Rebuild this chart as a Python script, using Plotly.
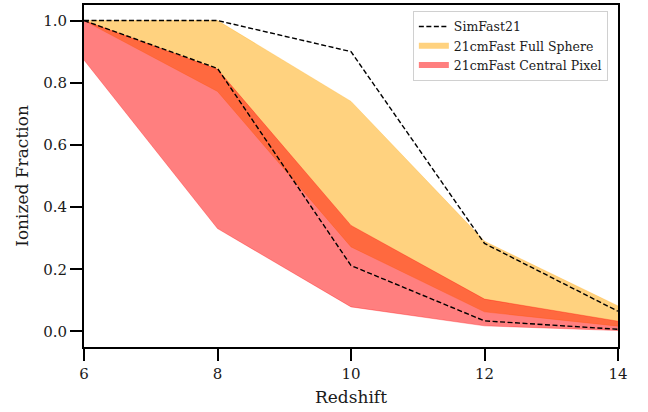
import plotly.graph_objects as go

redshift = [6, 8, 10, 12, 14]

# SimFast21 bounds (dashed lines)
sim_upper = [1.0, 1.0, 0.90, 0.283, 0.065]
sim_lower = [1.0, 0.846, 0.212, 0.034, 0.007]

# 21cmFast Full Sphere band
full_upper = [1.0, 1.0, 0.74, 0.29, 0.082]
full_lower = [1.0, 0.772, 0.272, 0.063, 0.017]

# 21cmFast Central Pixel band
central_upper = [1.0, 0.843, 0.341, 0.104, 0.033]
central_lower = [0.873, 0.331, 0.079, 0.018, 0.003]

font_family = "DejaVu Serif"

fig = go.Figure()

orange = "rgba(255,165,0,0.5)"
red = "rgba(255,0,0,0.5)"

fig.add_trace(go.Scatter(x=redshift, y=full_lower, mode="lines",
                         line=dict(color=orange, width=0.6),
                         showlegend=False, hoverinfo="skip"))
fig.add_trace(go.Scatter(x=redshift, y=full_upper, mode="lines", fill="tonexty",
                         fillcolor=orange, line=dict(color=orange, width=0.6),
                         name="21cmFast Full Sphere", showlegend=False))
fig.add_trace(go.Scatter(x=redshift, y=central_lower, mode="lines",
                         line=dict(color=red, width=0.6),
                         showlegend=False, hoverinfo="skip"))
fig.add_trace(go.Scatter(x=redshift, y=central_upper, mode="lines", fill="tonexty",
                         fillcolor=red, line=dict(color=red, width=0.6),
                         name="21cmFast Central Pixel", showlegend=False))

dash = "5px,2.5px"
fig.add_trace(go.Scatter(x=redshift, y=sim_upper, mode="lines",
                         line=dict(color="black", width=1.4, dash=dash),
                         name="SimFast21", showlegend=True))
fig.add_trace(go.Scatter(x=redshift, y=sim_lower, mode="lines",
                         line=dict(color="black", width=1.4, dash=dash),
                         name="SimFast21", showlegend=False))

# legend-only patches
fig.add_trace(go.Scatter(x=[None], y=[None], mode="none", fill="toself",
                         fillcolor=orange, name="21cmFast Full Sphere"))
fig.add_trace(go.Scatter(x=[None], y=[None], mode="none", fill="toself",
                         fillcolor=red, name="21cmFast Central Pixel"))

axis_common = dict(
    showline=True, linecolor="black", linewidth=2, mirror=True,
    ticks="outside", ticklen=12, tickwidth=2, tickcolor="black",
    showgrid=False, zeroline=False,
    tickfont=dict(family=font_family, size=15, color="#1a1a1a"),
)

fig.update_layout(
    width=648, height=412,
    margin=dict(l=84, r=30, t=3, b=65),
    plot_bgcolor="white", paper_bgcolor="white",
    font=dict(family=font_family, color="#1a1a1a"),
    xaxis=dict(range=[6, 14], tickvals=[6, 8, 10, 12, 14],
               title=dict(text="Redshift", font=dict(family=font_family, size=17), standoff=9),
               **axis_common),
    yaxis=dict(range=[-0.05, 1.05], tickvals=[0, 0.2, 0.4, 0.6, 0.8, 1.0],
               tickformat=".1f",
               title=dict(text="Ionized Fraction", font=dict(family=font_family, size=17), standoff=10),
               **axis_common),
    legend=dict(x=0.981, y=0.983, xanchor="right", yanchor="top",
                bgcolor="rgba(255,255,255,0.85)", bordercolor="#d0d0d0", borderwidth=1,
                font=dict(family=font_family, size=12.5, color="#1a1a1a"),
                traceorder="normal", tracegroupgap=0, itemwidth=30),
    showlegend=True,
)

fig.write_html("out.html", config={"displayModeBar": False},
               post_script="document.body.style.margin='0';")
